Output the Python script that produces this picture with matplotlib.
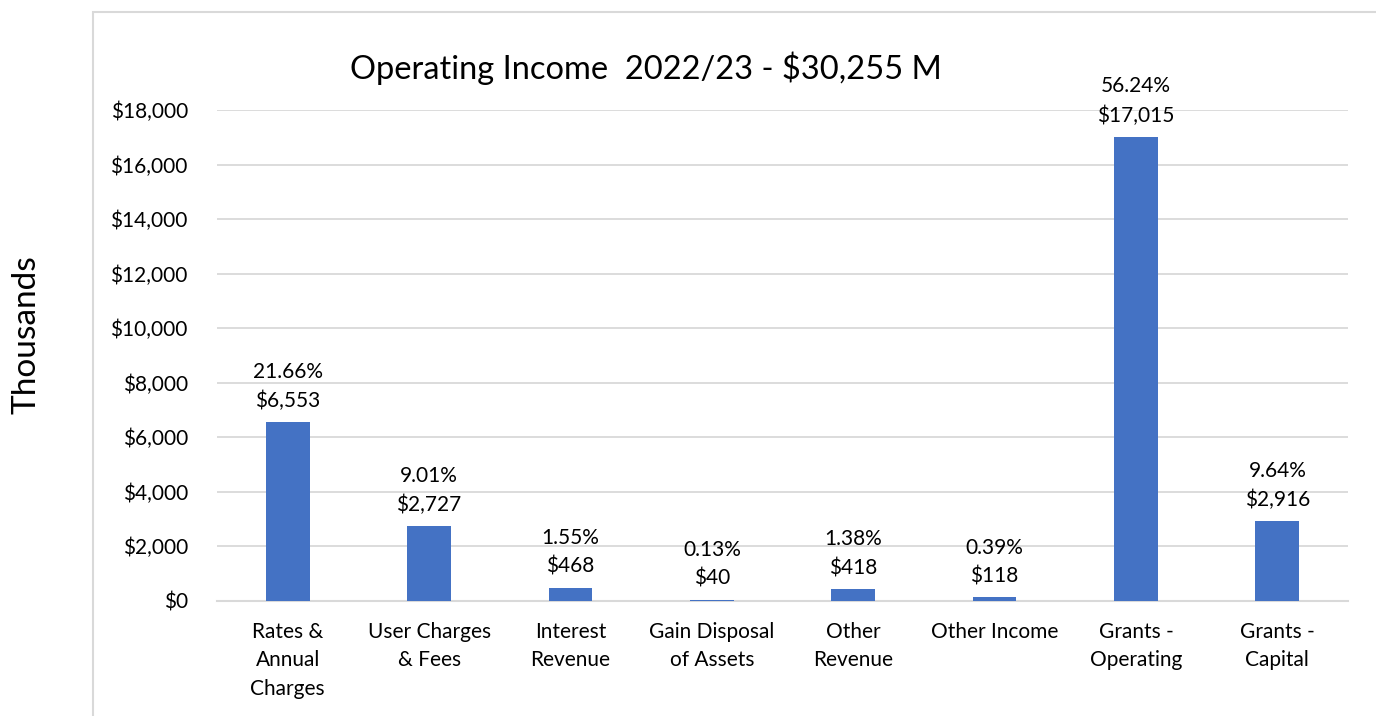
import matplotlib.pyplot as plt
from matplotlib.patches import Rectangle

# data
categories = ["Rates &\nAnnual\nCharges", "User Charges\n& Fees", "Interest\nRevenue",
              "Gain Disposal\nof Assets", "Other\nRevenue", "Other Income",
              "Grants -\nOperating", "Grants -\nCapital"]
values = [6553, 2727, 468, 40, 418, 118, 17015, 2916]
percents = ["21.66%", "9.01%", "1.55%", "0.13%", "1.38%", "0.39%", "56.24%", "9.64%"]
yticks = [0, 2000, 4000, 6000, 8000, 10000, 12000, 14000, 16000, 18000]

plt.rcParams['font.family'] = ['Lato', 'DejaVu Sans']

W, H = 1376, 716
fig = plt.figure(figsize=(W / 100, H / 100), dpi=100)

# chart area border (extends past right and bottom edges)
fig.patches.append(Rectangle((93 / W, -0.1), 1.2, 1 - 12 / H + 0.1, transform=fig.transFigure,
                             fill=False, edgecolor='#D9D9D9', linewidth=1.5))

ax = fig.add_axes([217 / W, 1 - 600.7 / H, (1348 - 217) / W, (600.7 - 110) / H])
x = range(len(categories))
bars = ax.bar(x, values, width=0.31, color='#4472C4', zorder=3)

for xi, v, p in zip(x, values, percents):
    ax.annotate(f"{p}\n${v:,}", (xi, v), xytext=(0, 8), textcoords='offset points',
                ha='center', va='bottom', fontsize=15, linespacing=1.55)

ax.set_xlim(-0.5, len(categories) - 0.5)
ax.set_ylim(0, 18000)
ax.set_yticks(yticks)
ax.set_yticklabels([f"${t:,}" for t in yticks], fontsize=15)
ax.set_xticks(list(x))
ax.set_xticklabels(categories, fontsize=15, linespacing=1.55)
ax.tick_params(axis='y', length=0, pad=21)
ax.tick_params(axis='x', length=0, pad=15)
ax.grid(axis='y', color='#D9D9D9', linewidth=1.3, zorder=0)
for s in ['top', 'right', 'left']:
    ax.spines[s].set_visible(False)
ax.spines['bottom'].set_color('#D9D9D9')
ax.spines['bottom'].set_linewidth(1.5)

fig.text(646 / W, 1 - 68 / H, "Operating Income  2022/23 - $30,255 M", ha='center', va='center', fontsize=23.5)
fig.text(27 / W, 1 - 335 / H, "Thousands", rotation=90, ha='center', va='center', fontsize=24)

fig.savefig("out.png", dpi=100)
